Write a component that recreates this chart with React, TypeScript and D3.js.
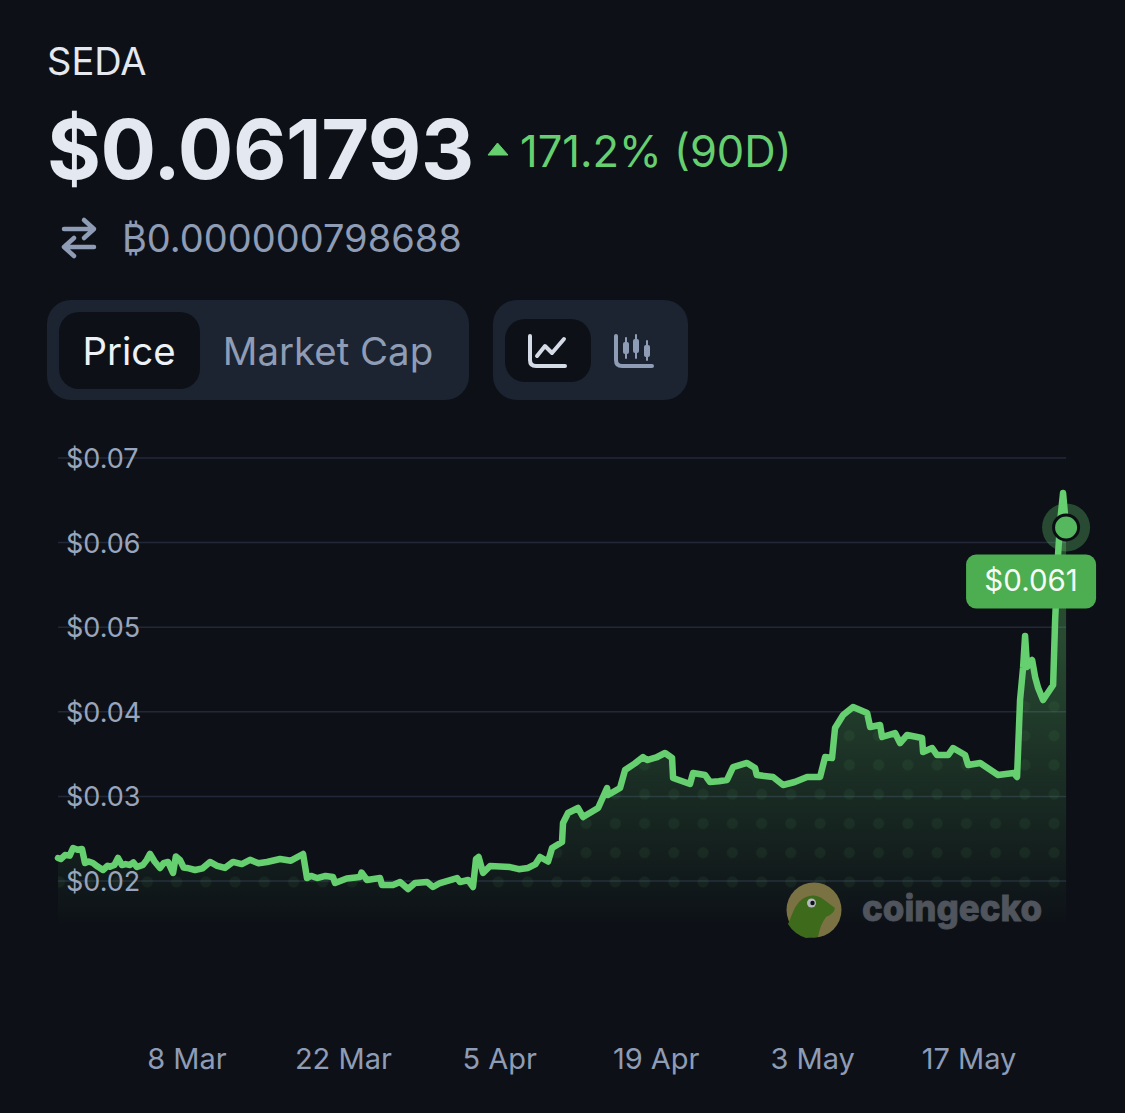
import React from "react";
import * as d3 from "d3";

const yTickValues = [0.02, 0.03, 0.04, 0.05, 0.06, 0.07];
const xTickDays = [0, 14, 28, 42, 56, 70];
const xTickLabels = ["8 Mar", "22 Mar", "5 Apr", "19 Apr", "3 May", "17 May"];
// days since 8 Mar
const days = [-11.55,-11.3,-10.92,-10.5,-10.2,-9.8,-9.4,-9.13,-8.8,-8.42,-8.0,-7.52,-7.1,-6.9,-6.5,-6.18,-5.82,-5.5,-5.1,-4.8,-4.48,-3.94,-3.6,-3.31,-2.9,-2.42,-2.1,-1.7,-1.25,-1.0,-0.63,-0.3,0,0.72,1.4,2.06,2.7,3.4,4.12,4.9,5.64,6.4,7.16,8.33,9.3,10.39,10.74,11.1,11.64,12.4,13.07,13.25,14.3,15.49,15.62,16.11,17.28,17.46,18.44,19.07,19.79,20.41,21.49,22.02,22.65,24.17,24.44,25.16,25.6,25.87,26.1,26.5,27.13,28.92,29.7,30.53,31.2,31.6,32.32,32.68,33.57,33.66,34.11,35,35.45,36.8,37.6,37.69,38.76,39.21,40.1,40.82,41.18,42.0,42.79,43.42,43.51,45.03,45.3,46.37,46.82,47.6,48.34,48.88,50.13,50.85,51.0,52.46,53.36,54.4,55.51,56.67,57.12,57.74,58.01,58.73,59.62,60.88,61.15,62.04,62.22,63.38,63.83,64.46,65.8,65.89,66.7,67.14,68.13,68.58,69.65,69.92,71,72.6,74.0,74.3,74.57,74.84,75.02,75.2,75.65,75.92,76.19,76.63,77.53,77.71,77.98,78.16,78.42,78.69];
const prices = [22.72,22.6,23.07,23.0,23.9,23.7,23.78,22.13,22.3,22.13,21.7,21.3,21.8,21.7,21.9,22.72,21.89,22.0,21.89,22.2,21.65,21.9,22.5,23.2,22.3,21.54,22.1,22.25,20.95,22.9,22.48,21.6,21.54,21.3,21.5,22.25,21.8,21.54,22.25,22.0,22.5,22.1,22.25,22.6,22.4,23.19,20.35,20.6,20.35,20.6,20.47,19.76,20.3,20.47,21.0,20.12,20.35,19.53,19.53,19.88,19.05,19.76,19.88,19.29,19.76,20.35,19.88,20.12,19.29,22.6,22.84,20.95,21.77,21.65,21.4,21.54,22.0,22.84,22.3,23.9,24.61,26.86,28.04,28.63,27.56,28.63,30.99,30.17,30.99,33.12,33.9,34.66,34.3,34.6,35.13,34.54,32.17,31.47,32.77,32.53,31.7,31.8,31.94,33.47,33.95,33.36,32.53,32.29,31.35,31.7,32.29,32.3,34.66,34.54,38.08,39.62,40.57,39.86,38.2,38.44,37.02,37.49,36.31,37.26,36.9,35.25,35.72,34.89,34.89,35.72,34.89,33.71,33.95,32.53,32.77,32.3,41.39,45.18,48.96,45.3,46.12,44.11,42.81,41.39,43.17,50.85,58.77,62.5,65.86,61.79];

const BG = "#0d1117";
const GREEN = "#66cf6f";
const MUTED = "#8f9cb5";
const FONT = "Inter, 'Noto Sans', sans-serif";

const x = d3.scaleLinear().domain([0, 70]).range([187, 969]);
const y = d3.scaleLinear().domain([0.02, 0.07]).range([881, 458]);
const series = days.map((d, i) => ({ d, p: prices[i] / 1000 }));
const line = d3.line<{ d: number; p: number }>().x((q) => x(q.d)).y((q) => y(q.p));
const area = d3.area<{ d: number; p: number }>().x((q) => x(q.d)).y1((q) => y(q.p)).y0(925);
const last = series[series.length - 1];

export default function App() {
  const mx = x(last.d), my = y(last.p);
  return (
    <svg width={1125} height={1113} viewBox="0 0 1125 1113" style={{ position: "absolute", left: 0, top: 0, display: "block", background: BG }} fontFamily={FONT}>
      <defs>
        <linearGradient id="fade" gradientUnits="userSpaceOnUse" x1="0" x2="0" y1="640" y2="925">
          <stop offset="0" stopColor={GREEN} stopOpacity={0.3} />
          <stop offset="0.55" stopColor={GREEN} stopOpacity={0.13} />
          <stop offset="1" stopColor={GREEN} stopOpacity={0} />
        </linearGradient>
        <pattern id="dots" patternUnits="userSpaceOnUse" width="29.25" height="29.25" patternTransform="translate(45 691.9)">
          <circle cx="14.6" cy="14.6" r="5.5" fill={GREEN} fillOpacity={0.07} />
        </pattern>
        <clipPath id="areaClip"><path d={area(series) ?? ""} /></clipPath>
      </defs>

      <text x={47} y={75} fontSize={38} fill="#e4e8f0">SEDA</text>
      <text x={47} y={179} fontSize={82.5} fontWeight={700} fill="#e4e8f0" letterSpacing={-0.5}>$0.061793</text>
      <path d="M488 155 L497.5 143 L508 155 Z" fill={GREEN} stroke={GREEN} strokeWidth={1} strokeLinejoin="round" />
      <text x={520} y={167} fontSize={43.5} fill={GREEN}>171.2% (90D)</text>

      <g stroke={MUTED} strokeWidth={4.5} fill="none" strokeLinecap="round" strokeLinejoin="round">
        <path d="M64 229 H94 M84 220 L94 229 L84 238" />
        <path d="M94 247 H64 M74 238 L64 247 L74 256" />
      </g>
      <text x={122} y={252} fontSize={38} fill={MUTED}>₿0.000000798688</text>

      <rect x={47} y={300} width={422} height={100} rx={24} fill="#1c2431" />
      <rect x={59} y={312} width={141} height={77} rx={20} fill={BG} />
      <text x={129} y={365} fontSize={38.4} fill="#eef1f6" textAnchor="middle">Price</text>
      <text x={328} y={365} fontSize={38.4} fill={MUTED} textAnchor="middle">Market Cap</text>
      <rect x={493} y={300} width={195} height={100} rx={24} fill="#1c2431" />
      <rect x={505} y={319} width={86} height={63} rx={20} fill={BG} />
      <g fill="none" strokeLinecap="round" strokeLinejoin="round">
        <path d="M530 336 V360 Q530 366 536 366 H565" stroke="#d5dbe6" strokeWidth={4} />
        <path d="M537 356 L545 346 L552 353 L564 339" stroke="#d5dbe6" strokeWidth={4} />
        <path d="M616 336 V360 Q616 366 622 366 H652" stroke={MUTED} strokeWidth={4} />
        <path d="M626 338 V358 M636 335 V358 M647 341 V360" stroke={MUTED} strokeWidth={2} />
      </g>
      <g fill={MUTED}>
        <rect x={623} y={342} width={6} height={12} rx={2} />
        <rect x={633} y={339} width={6} height={14} rx={2} />
        <rect x={644} y={345} width={6} height={12} rx={2} />
      </g>

      {yTickValues.map((v) => (
        <line key={v} x1={58} x2={x(last.d)} y1={y(v)} y2={y(v)} stroke="#222838" strokeWidth={1.5} />
      ))}
      <path d={area(series) ?? ""} fill="url(#fade)" />
      <rect x={50} y={690} width={1030} height={210} fill="url(#dots)" clipPath="url(#areaClip)" />
      {yTickValues.map((v) => (
        <text key={v} x={66} y={y(v) + 10} fontSize={27} fill="#98a5bc">{`$${v.toFixed(2)}`}</text>
      ))}

      <circle cx={814} cy={910} r={27.5} fill="#7a7242" />
      <path d="M806 897 Q815 893 823 899 L835 908 Q834 914 826 917 Q820 925 818 937 L806 938 Q794 934 788 924 L793 912 Q798 900 806 897 Z" fill="#3e6a1b" />
      <circle cx={811.5} cy={903} r={4.5} fill="#b6bac0" />
      <circle cx={812.5} cy={903} r={2.2} fill="#0d1117" />
      <text x={862} y={921} fontSize={36} fontWeight={800} fill="#50545c" stroke="#50545c" strokeWidth={0.8} fontFamily="Inter, sans-serif" textLength={180} lengthAdjust="spacingAndGlyphs">coingecko</text>

      <path d={line(series) ?? ""} fill="none" stroke={GREEN} strokeWidth={6.5} strokeLinejoin="round" strokeLinecap="round" />
      <circle cx={mx} cy={my} r={24} fill={GREEN} fillOpacity={0.3} />
      <circle cx={mx} cy={my} r={12.5} fill="#55b85e" stroke="#0b0f13" strokeWidth={3} />
      <rect x={mx - 100} y={my + 27} width={130} height={54} rx={10} fill="#4cae50" />
      <text x={mx - 35} y={my + 64} fontSize={29.5} fill="#f5fbf5" textAnchor="middle">{`$${(last.p - 0.0008).toFixed(3)}`}</text>

      {xTickDays.map((d, i) => (
        <text key={d} x={x(d)} y={1069} fontSize={29} fill={MUTED} textAnchor="middle">{xTickLabels[i]}</text>
      ))}
    </svg>
  );
}
